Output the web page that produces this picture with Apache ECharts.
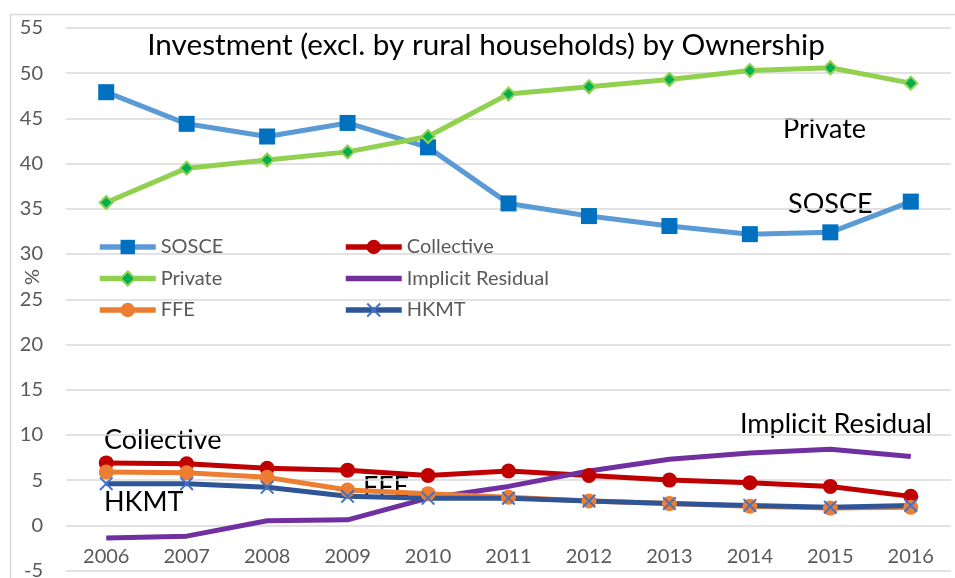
<!DOCTYPE html>
<html>
<head>
<meta charset="utf-8">
<script src="https://cdn.jsdelivr.net/npm/echarts@6/dist/echarts.min.js"></script>
<style>
  html, body { margin: 0; padding: 0; background: #fff; }
  #chart { width: 955px; height: 578px; }
</style>
</head>
<body>
<div id="chart"></div>
<script>
// data (% share of investment)
var years = ['2006', '2007', '2008', '2009', '2010', '2011', '2012', '2013', '2014', '2015', '2016'];
var sosce = [47.9, 44.4, 43.0, 44.5, 41.8, 35.6, 34.2, 33.1, 32.2, 32.4, 35.8];
var collective = [6.9, 6.8, 6.3, 6.1, 5.5, 6.0, 5.5, 5.0, 4.7, 4.3, 3.2];
var privateInv = [35.7, 39.5, 40.4, 41.3, 43.0, 47.7, 48.5, 49.3, 50.3, 50.6, 48.9];
var residual = [-1.4, -1.2, 0.5, 0.6, 3.0, 4.3, 6.0, 7.3, 8.0, 8.4, 7.6];
var ffe = [5.9, 5.8, 5.3, 3.9, 3.5, 3.1, 2.7, 2.4, 2.1, 1.9, 2.0];
var hkmt = [4.6, 4.6, 4.2, 3.2, 3.0, 3.0, 2.7, 2.4, 2.2, 2.0, 2.2];

var FONT = 'Lato, "Open Sans", sans-serif';
var crossPath = 'path://M0,1L1,0L5,4L9,0L10,1L6,5L10,9L9,10L5,6L1,10L0,9L4,5Z';

function lineSeries(name, data, color, symbol, symbolSize, markerColor, borderColor) {
  return {
    name: name,
    type: 'line',
    data: data,
    symbol: symbol,
    symbolSize: symbolSize,
    showSymbol: symbol !== 'none',
    lineStyle: { color: color, width: 5 },
    itemStyle: {
      color: markerColor || color,
      borderColor: borderColor || markerColor || color,
      borderWidth: borderColor ? 2 : 0
    },
    emphasis: { disabled: true },
    animation: false
  };
}

function label(text, x, y, size) {
  return {
    type: 'text', x: x, y: y, silent: true,
    style: { text: text, fill: '#000', font: size + 'px ' + FONT, align: 'left', verticalAlign: 'middle' }
  };
}

var legendBase = {
  orient: 'vertical',
  top: 237,
  padding: 0,
  itemWidth: 56, itemHeight: 18, itemGap: 11.5,
  lineStyle: { width: 5.5 },
  textStyle: { color: '#595959', fontSize: 20, fontFamily: FONT }
};

var chart = echarts.init(document.getElementById('chart'));
var options = {
  backgroundColor: '#fff',
  textStyle: { fontFamily: FONT },
  grid: { left: 66, right: 4, top: 28, bottom: 7.5, containLabel: false, outerBoundsMode: 'none' },
  legend: [
    Object.assign({ data: ['SOSCE', 'Private', 'FFE'], left: 97 }, legendBase),
    Object.assign({
      data: [
        'Collective',
        // plain line in the legend, no marker
        { name: 'Implicit Residual', itemStyle: { color: 'rgba(0,0,0,0)', borderWidth: 0, opacity: 0 } },
        'HKMT'
      ],
      left: 343
    }, legendBase)
  ],
  xAxis: {
    type: 'category',
    data: years,
    boundaryGap: true,
    axisLine: { show: false },
    axisTick: { show: false },
    axisLabel: { inside: true, margin: 4, color: '#595959', fontSize: 20, fontFamily: FONT }
  },
  yAxis: {
    type: 'value',
    min: -5, max: 55, interval: 5,
    axisLine: { show: false },
    axisTick: { show: false },
    axisLabel: { margin: 23, color: '#595959', fontSize: 20, fontFamily: FONT },
    splitLine: { lineStyle: { color: '#D9D9D9', width: 1.5 } }
  },
  series: [
    lineSeries('SOSCE', sosce, '#5B9BD5', 'rect', 16, '#0070C0'),
    lineSeries('Collective', collective, '#C00000', 'circle', 15),
    lineSeries('Private', privateInv, '#92D050', 'diamond', 13, '#00B050', '#92D050'),
    lineSeries('Implicit Residual', residual, '#7030A0', 'none', 0),
    lineSeries('FFE', ffe, '#ED7D31', 'circle', 15),
    lineSeries('HKMT', hkmt, '#2F5597', crossPath, 14, '#4472C4')
  ],
  graphic: [
    { type: 'rect', left: 8, top: 12, shape: { width: 960, height: 580 },
      style: { fill: 'none', stroke: '#D9D9D9', lineWidth: 1.5 }, silent: true, z: -1 },
    {
      type: 'text', x: 486, y: 45, silent: true,
      style: { text: 'Investment (excl. by rural households) by Ownership', fill: '#000',
        font: '29.7px ' + FONT, align: 'center', verticalAlign: 'middle' }
    },
    {
      type: 'text', x: 33, y: 277, rotation: Math.PI / 2, silent: true,
      style: { text: '%', fill: '#595959', font: '20px ' + FONT, align: 'center', verticalAlign: 'middle' }
    },
    label('Private', 783, 129, 27),
    label('SOSCE', 788, 204, 27),
    label('Collective', 104, 440, 27),
    label('HKMT', 104, 502, 27),
    label('FFE', 363, 487, 27),
    label('Implicit Residual', 740, 424, 27)
  ]
};
chart.setOption(options);
</script>
</body>
</html>
